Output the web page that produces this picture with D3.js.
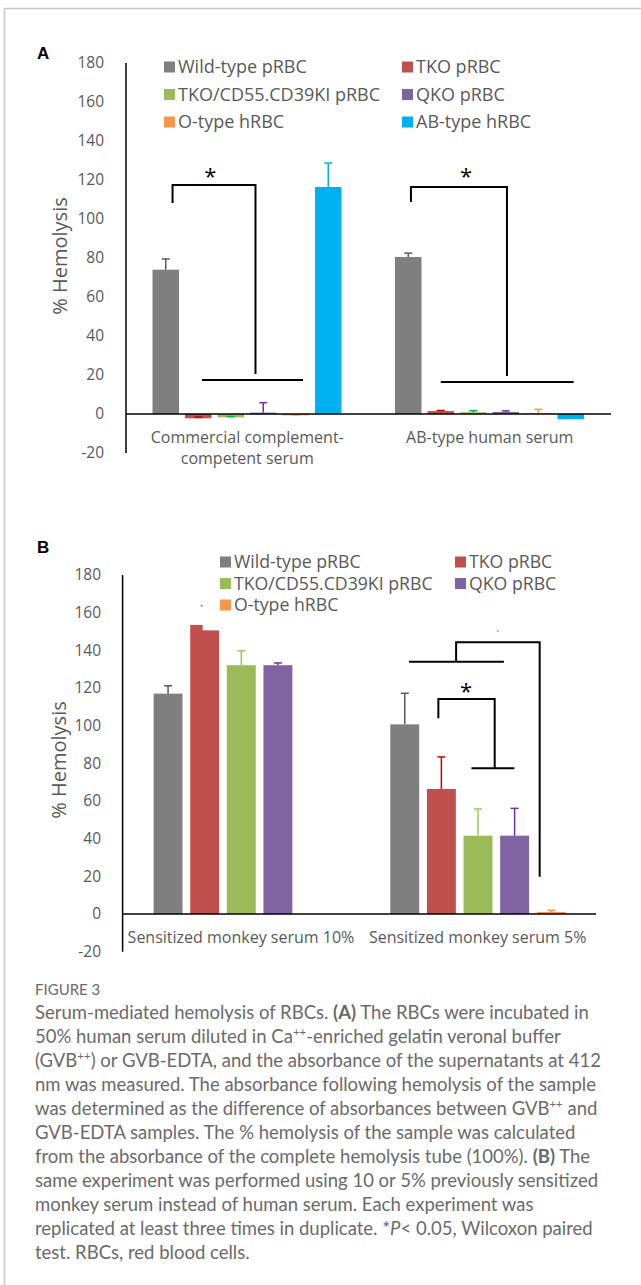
<!DOCTYPE html>
<html>
<head>
<meta charset="utf-8">
<script src="https://cdn.jsdelivr.net/npm/d3@7"></script>
<style>
  body { margin: 0; background: #fff; }
  svg { display: block; }
</style>
</head>
<body>
<svg id="fig" width="641" height="1285"></svg>
<script>
// panel A data
var categoriesA = ["Commercial complement-competent serum", "AB-type human serum"];
var seriesA = ["Wild-type pRBC", "TKO pRBC", "TKO/CD55.CD39KI pRBC", "QKO pRBC", "O-type hRBC", "AB-type hRBC"];
var valuesA = [
  [74, -2.2, -1.7, 0.7, -0.7, 116.4],
  [80.5, 1.5, 0.9, 1.0, 0.3, -2.7]
];
var errorsA = [
  [5.5, 0.6, 0.4, 5.1, 0.3, 12.3],
  [2.0, 0.3, 0.8, 0.6, 2.1, 0]
];

// panel B data
var categoriesB = ["Sensitized monkey serum 10%", "Sensitized monkey serum 5%"];
var seriesB = ["Wild-type pRBC", "TKO pRBC", "TKO/CD55.CD39KI pRBC", "QKO pRBC", "O-type hRBC"];
var valuesB = [
  [117.0, 150.6, 132.1, 132.1, null],
  [100.7, 66.4, 41.6, 41.6, 1.1]
];
var errorsB = [
  [4.2, 2.9, 7.7, 1.2, null],
  [16.5, 17.0, 14.2, 14.5, 0.9]
];

var yTicks = [-20, 0, 20, 40, 60, 80, 100, 120, 140, 160, 180];

var barColors = {
  "Wild-type pRBC": "#7f7f7f",
  "TKO pRBC": "#c0504d",
  "TKO/CD55.CD39KI pRBC": "#9bbb59",
  "QKO pRBC": "#8064a2",
  "O-type hRBC": "#f79646",
  "AB-type hRBC": "#00b0f0"
};
var errColorsA = ["#595959", "#c00000", "#00b050", "#7030a0", "#f79646", "#00b0f0"];
var errColorsB = ["#595959", "#c00000", "#92d050", "#7030a0", "#f79646"];

var FONT = "'Open Sans', 'Liberation Sans', sans-serif";
var GREY = "#595959";

var svg = d3.select("#fig");

// outer frame (top + left only)
svg.append("path")
  .attr("d", "M4.5,1285 V8.5 H641")
  .attr("fill", "none")
  .attr("stroke", "#c8c8c8")
  .attr("stroke-width", 1.5);

function drawPanel(cfg) {
  var g = svg.append("g");

  var x0 = d3.scaleBand().domain(cfg.categories).range([cfg.left, cfg.right]);
  var x1 = d3.scaleBand().domain(cfg.series)
    .range(cfg.inner).paddingInner(cfg.padInner).paddingOuter(0);
  var y = d3.scaleLinear().domain([-20, 180]).range([cfg.bottom, cfg.top]);

  // panel letter
  g.append("text")
    .attr("x", 37).attr("y", cfg.letterY)
    .attr("font-family", "'Liberation Sans', Arial, sans-serif")
    .attr("font-weight", "bold").attr("font-size", 17)
    .attr("fill", "#000")
    .text(cfg.letter);

  // y axis labels
  var axis = d3.axisLeft(y).tickValues(yTicks).tickSize(0).tickPadding(0)
    .tickFormat(function (d) { return String(d); });
  var ag = g.append("g")
    .attr("transform", "translate(" + cfg.tickRight + ",0)")
    .call(axis);
  ag.select(".domain").remove();
  ag.selectAll("text")
    .attr("font-family", FONT).attr("font-size", 15.5)
    .attr("fill", GREY);

  // y title
  g.append("text")
    .attr("transform", "translate(" + cfg.titleX + "," + cfg.titleY + ") rotate(-90)")
    .attr("text-anchor", "middle").attr("dy", "0.35em")
    .attr("font-family", FONT).attr("font-size", 20)
    .attr("fill", GREY)
    .text("% Hemolysis");

  // bars
  var groups = g.selectAll(".grp")
    .data(cfg.categories)
    .join("g")
    .attr("class", "grp")
    .attr("transform", function (d) { return "translate(" + x0(d) + ",0)"; });

  groups.each(function (cat, ci) {
    var gg = d3.select(this);
    var rows = cfg.series.map(function (s, si) {
      return { s: s, si: si, ci: ci, v: cfg.values[ci][si], e: cfg.errors[ci][si] };
    }).filter(function (d) { return d.v !== null; });

    gg.selectAll("rect.bar")
      .data(rows)
      .join("rect")
      .attr("class", "bar")
      .attr("x", function (d) { return x1(d.s); })
      .attr("width", x1.bandwidth())
      .attr("y", function (d) { return y(Math.max(0, d.v)); })
      .attr("height", function (d) { return Math.abs(y(d.v) - y(0)); })
      .attr("fill", function (d) { return barColors[d.s]; });

    // error bars (plus direction)
    var skip = cfg.skipErr || [];
    var eb = gg.selectAll("g.err")
      .data(rows.filter(function (d) {
        return d.e > 0 && !skip.some(function (k) { return k[0] === d.ci && k[1] === d.si; });
      }))
      .join("g")
      .attr("class", "err")
      .attr("stroke", function (d) { return cfg.errColors[d.si]; })
      .attr("stroke-width", 1.5);
    eb.append("line")
      .attr("x1", function (d) { return x1(d.s) + x1.bandwidth() / 2; })
      .attr("x2", function (d) { return x1(d.s) + x1.bandwidth() / 2; })
      .attr("y1", function (d) { return y(d.v); })
      .attr("y2", function (d) { return y(d.v + d.e); });
    eb.append("line")
      .attr("x1", function (d) { return x1(d.s) + x1.bandwidth() / 2 - 4; })
      .attr("x2", function (d) { return x1(d.s) + x1.bandwidth() / 2 + 4; })
      .attr("y1", function (d) { return y(d.v + d.e); })
      .attr("y2", function (d) { return y(d.v + d.e); });
  });

  // zero line and y axis
  g.append("line")
    .attr("x1", cfg.left).attr("x2", cfg.right)
    .attr("y1", y(0)).attr("y2", y(0))
    .attr("stroke", "#000").attr("stroke-width", 1.5);
  g.append("line")
    .attr("x1", cfg.left).attr("x2", cfg.left)
    .attr("y1", y(180)).attr("y2", y(-20))
    .attr("stroke", "#000").attr("stroke-width", 1.5);

  // category labels
  cfg.catLabels.forEach(function (lines, ci) {
    var t = g.append("text")
      .attr("text-anchor", "middle")
      .attr("font-family", FONT).attr("font-size", cfg.catFont)
      .attr("fill", GREY);
    lines.forEach(function (ln, li) {
      t.append("tspan")
        .attr("x", x0(cfg.categories[ci]) + x0.bandwidth() / 2)
        .attr("y", cfg.catY + li * 21)
        .attr("dy", "0.35em")
        .text(ln);
    });
  });

  // legend
  cfg.series.forEach(function (s, i) {
    var col = i % 2, row = Math.floor(i / 2);
    var lx = cfg.legendX[col], ly = cfg.legendY + row * cfg.legendDy;
    g.append("rect")
      .attr("x", lx).attr("y", ly - 5.5)
      .attr("width", 11).attr("height", 11)
      .attr("fill", barColors[s]);
    g.append("text")
      .attr("x", lx + 14).attr("y", ly).attr("dy", "0.35em")
      .attr("font-family", FONT).attr("font-size", cfg.legendFont)
      .attr("fill", GREY)
      .text(s);
  });

  // significance brackets: points given as [category, band fraction, value]
  var px = function (ci, f) { return x0(cfg.categories[ci]) + f * x0.bandwidth(); };
  var line = d3.line()
    .x(function (p) { return px(p[0], p[1]); })
    .y(function (p) { return y(p[2]); });
  cfg.brackets.forEach(function (pts) {
    g.append("path")
      .attr("d", line(pts))
      .attr("fill", "none")
      .attr("stroke", "#000").attr("stroke-width", 2);
  });
  cfg.stars.forEach(function (st) {
    g.append("text")
      .attr("x", px(st[0], st[1])).attr("y", y(st[2]) + 12)
      .attr("text-anchor", "middle")
      .attr("font-family", FONT).attr("font-size", 22)
      .attr("fill", "#000")
      .text("*");
  });

  if (cfg.extra) cfg.extra(g, x0, x1, y, px);
}

drawPanel({
  letter: "A", letterY: 59,
  categories: categoriesA, series: seriesA,
  values: valuesA, errors: errorsA, errColors: errColorsA,
  left: 126, right: 611, top: 63, bottom: 453,
  inner: [26.5, 215.5], padInner: 0.185,
  tickRight: 104, titleX: 60, titleY: 256,
  catLabels: [["Commercial complement-", "competent serum"], ["AB-type human serum"]],
  catY: 437, catFont: 16,
  legendX: [164, 402], legendY: 67, legendDy: 27.5, legendFont: 18,
  brackets: [
    [[0, 0.192, 108.2], [0, 0.192, 117.4], [0, 0.534, 117.4], [0, 0.534, 20.5]],
    [[0, 0.313, 17.4], [0, 0.730, 17.4]],
    [[1, 0.175, 108.7], [1, 0.175, 116.4], [1, 0.571, 116.4], [1, 0.571, 19.5]],
    [[1, 0.298, 16.4], [1, 0.846, 16.4]]
  ],
  stars: [[0, 0.348, 124.1], [1, 0.402, 124.1]]
});

drawPanel({
  letter: "B", letterY: 553,
  categories: categoriesB, series: seriesB,
  values: valuesB, errors: errorsB, errColors: errColorsB,
  skipErr: [[0, 1]],
  left: 122.6, right: 596, top: 575, bottom: 951.7,
  inner: [31, 206.4], padInner: 0.21,
  tickRight: 101, titleX: 59, titleY: 760,
  catLabels: [["Sensitized monkey serum 10%"], ["Sensitized monkey serum 5%"]],
  catY: 937, catFont: 16,
  legendX: [220, 455], legendY: 562, legendDy: 21.5, legendFont: 17.7,
  brackets: [
    [[1, 0.21, 134], [1, 0.611, 134]],
    [[1, 0.409, 134], [1, 0.409, 144.3], [1, 0.762, 144.3], [1, 0.762, 19.8]],
    [[1, 0.334, 103.9], [1, 0.334, 114.2], [1, 0.572, 114.2], [1, 0.572, 77.4]],
    [[1, 0.474, 77.4], [1, 0.655, 77.4]]
  ],
  stars: [[1, 0.451, 120.5]],
  extra: function (g, x0, x1, y, px) {
    // stepped top on the TKO bar of the 10% group
    var cat = categoriesB[0], s = seriesB[1];
    var v = valuesB[0][1], e = errorsB[0][1];
    g.append("rect")
      .attr("x", x0(cat) + x1(s))
      .attr("width", x1.bandwidth() * 0.43)
      .attr("y", y(v + e))
      .attr("height", y(v) - y(v + e) + 1)
      .attr("fill", barColors[s]);
    g.append("rect")
      .attr("x", px(0, 0.334) - 0.75).attr("y", y(163.7) - 0.75)
      .attr("width", 1.5).attr("height", 1.5)
      .attr("fill", "#e03030");
    g.append("rect")
      .attr("x", px(1, 0.586) - 0.75).attr("y", y(150.3) - 0.75)
      .attr("width", 1.5).attr("height", 1.5)
      .attr("fill", "#888");
  }
});

// caption
var CAP = "Lato, 'Open Sans', sans-serif";
var capColor = "#6a6a6a";
svg.append("text")
  .attr("x", 35).attr("y", 995)
  .attr("font-family", CAP).attr("font-size", 15)
  .attr("fill", capColor)
  .text("FIGURE 3");

var captionLines = [
  [["Serum-mediated hemolysis of RBCs. "], ["(A)", "b"], [" The RBCs were incubated in"]],
  [["50% human serum diluted in Ca"], ["++", "sup"], ["-enriched gelatin veronal buffer"]],
  [["(GVB"], ["++", "sup"], [") or GVB-EDTA, and the absorbance of the supernatants at 412"]],
  [["nm was measured. The absorbance following hemolysis of the sample"]],
  [["was determined as the difference of absorbances between GVB"], ["++", "sup"], [" and"]],
  [["GVB-EDTA samples. The % hemolysis of the sample was calculated"]],
  [["from the absorbance of the complete hemolysis tube (100%). "], ["(B)", "b"], [" The"]],
  [["same experiment was performed using 10 or 5% previously sensitized"]],
  [["monkey serum instead of human serum. Each experiment was"]],
  [["replicated at least three times in duplicate. *"], ["P", "i"], ["< 0.05, Wilcoxon paired"]],
  [["test. RBCs, red blood cells."]]
];

var capText = svg.append("g")
  .attr("font-family", CAP).attr("fill", capColor);
var capSize = 17;
captionLines.forEach(function (parts, i) {
  var t = capText.append("text")
    .attr("class", "cap")
    .attr("x", 35).attr("y", 1019 + i * 24)
    .attr("font-size", capSize);
  parts.forEach(function (p) {
    var sp = t.append("tspan").text(p[0]);
    if (p[1] === "b") sp.attr("font-weight", "bold");
    if (p[1] === "i") sp.attr("font-style", "italic");
    if (p[1] === "sup") sp.attr("font-size", capSize * 0.62).attr("dy", -7);
  });
  if (parts.some(function (p) { return p[1] === "sup"; })) {
    // reset baseline after superscripts
    t.selectAll("tspan").each(function (d, k, nodes) {
      var prev = k > 0 ? d3.select(nodes[k - 1]) : null;
      if (prev && prev.attr("dy") === "-7") d3.select(this).attr("dy", 7);
    });
  }
});

// fit caption size to the widest line (reference ~566px)
var widest = d3.max(capText.selectAll("text.cap").nodes(), function (n) { return n.getComputedTextLength(); });
var k = 566 / widest;
capText.selectAll("text.cap").attr("font-size", capSize * k);
capText.selectAll("tspan").each(function () {
  var s = d3.select(this);
  if (s.attr("font-size")) s.attr("font-size", capSize * 0.62 * k);
});
</script>
</body>
</html>
